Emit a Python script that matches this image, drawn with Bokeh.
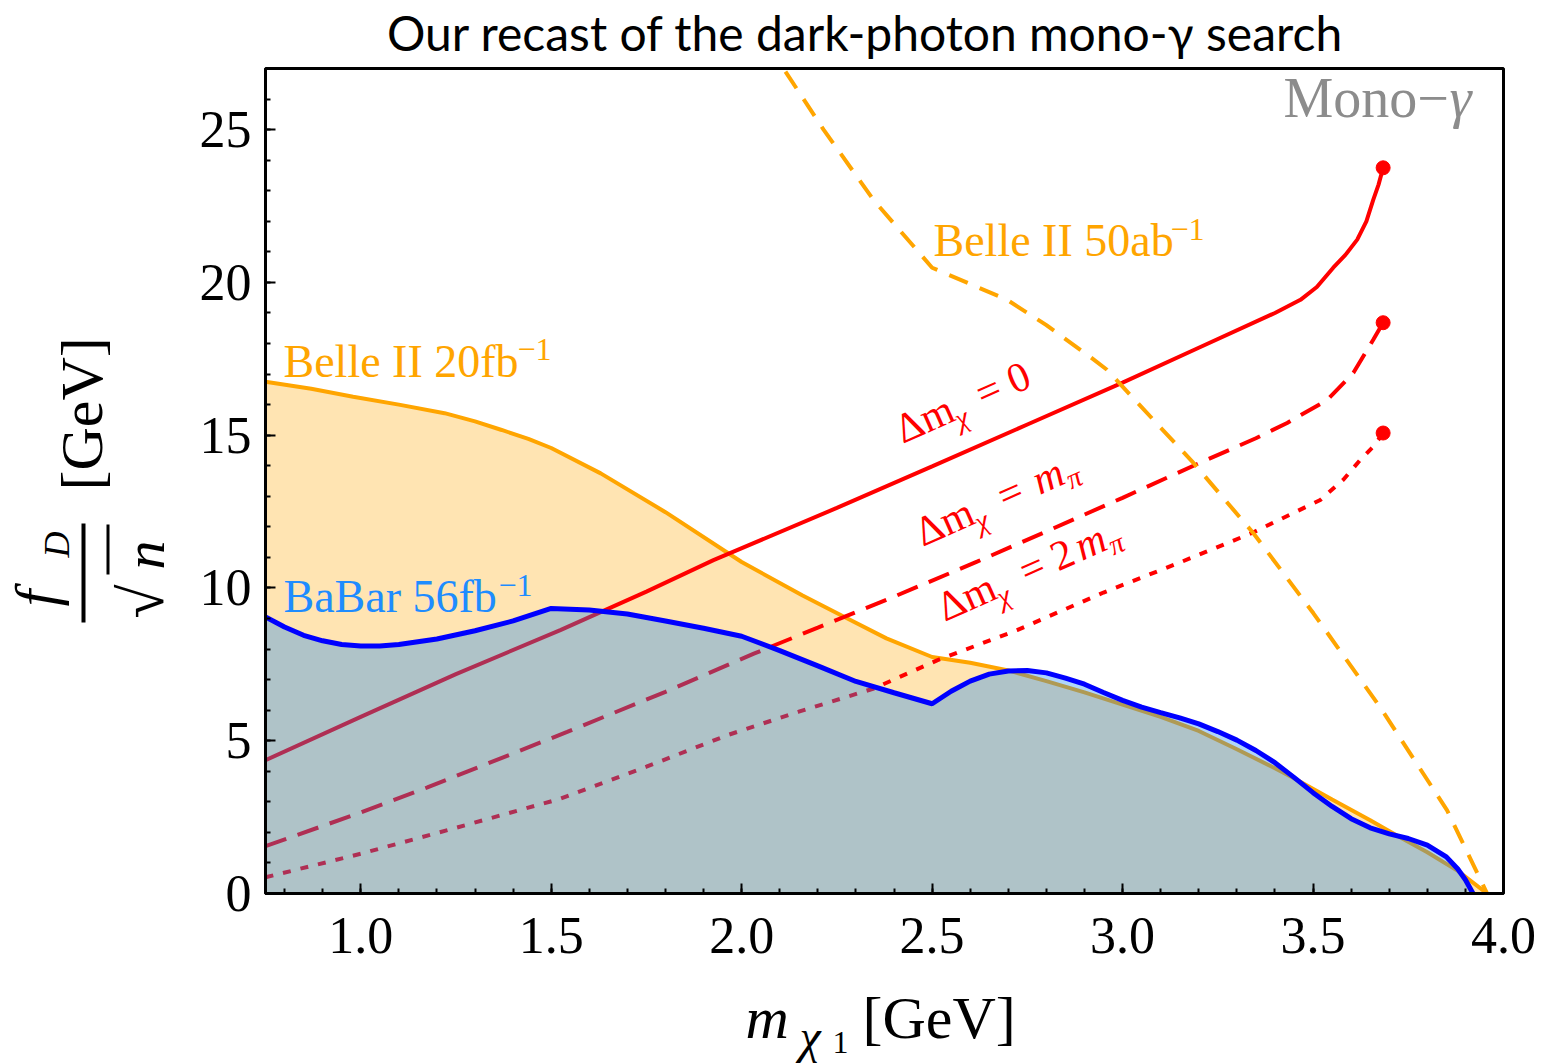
import math
from bokeh.plotting import figure
from bokeh.layouts import column, row
from bokeh.models import Label, FixedTicker, PrintfTickFormatter, Range1d
from bokeh.core.properties import value
from bokeh.embed import file_html
from bokeh.resources import INLINE

# ---------------- data ----------------
babar_x = [0.75, 0.80, 0.85, 0.90, 0.95, 1.00, 1.05, 1.10, 1.20, 1.30, 1.40, 1.50, 1.60, 1.70,
           1.80, 1.90, 2.00, 2.10, 2.20, 2.30, 2.40, 2.50, 2.55, 2.60, 2.65, 2.70, 2.75, 2.80,
           2.85, 2.90, 2.95, 3.00, 3.05, 3.10, 3.15, 3.20, 3.25, 3.30, 3.35, 3.40, 3.45, 3.50,
           3.55, 3.60, 3.65, 3.70, 3.75, 3.80, 3.85, 3.88, 3.90, 3.92]
babar_y = [9.05, 8.72, 8.45, 8.27, 8.15, 8.10, 8.10, 8.15, 8.33, 8.60, 8.92, 9.33, 9.28, 9.15,
           8.92, 8.68, 8.42, 7.95, 7.45, 6.94, 6.57, 6.21, 6.62, 6.95, 7.18, 7.28, 7.30, 7.22,
           7.05, 6.85, 6.58, 6.32, 6.10, 5.92, 5.75, 5.55, 5.30, 5.02, 4.68, 4.28, 3.80, 3.30,
           2.85, 2.45, 2.15, 1.95, 1.80, 1.58, 1.20, 0.80, 0.45, 0.0]

belle20_x = [0.75, 0.87, 0.98, 1.10, 1.22, 1.30, 1.37, 1.44, 1.50, 1.63, 1.80, 2.00, 2.16, 2.27,
             2.38, 2.50, 2.60, 2.70, 2.80, 2.90, 3.00, 3.10, 3.20, 3.30, 3.40, 3.45, 3.55, 3.65,
             3.72, 3.80, 3.88, 3.957]
belle20_y = [16.75, 16.52, 16.26, 16.00, 15.72, 15.45, 15.17, 14.88, 14.58, 13.75, 12.48, 10.85, 9.75, 9.05,
             8.35, 7.74, 7.55, 7.30, 6.95, 6.58, 6.18, 5.78, 5.32, 4.72, 4.10, 3.77, 3.08, 2.40,
             1.90, 1.35, 0.74, 0.0]

belle50_x = [2.115, 2.215, 2.346, 2.50, 2.697, 2.80, 2.915, 2.959, 3.186, 3.343, 3.501, 3.676, 3.852, 3.957]
belle50_y = [26.9, 25.0, 22.7, 20.48, 19.43, 18.6, 17.56, 17.14, 14.09, 11.80, 9.17, 6.10, 2.72, 0.0]

dm0_x = [0.75, 1.00, 1.25, 1.524, 1.75, 1.926, 2.25, 2.50, 2.75, 3.00, 3.20, 3.40, 3.467, 3.51,
         3.553, 3.585, 3.616, 3.64, 3.658, 3.672, 3.684]
dm0_y = [4.36, 5.78, 7.18, 8.62, 9.88, 10.91, 12.62, 13.98, 15.35, 16.72, 17.86, 19.00, 19.43, 19.85,
         20.48, 20.90, 21.40, 22.00, 22.70, 23.20, 23.75]

dm1_x = [0.75, 1.00, 1.175, 1.542, 1.80, 2.032, 2.20, 2.399, 2.618, 2.80, 3.00, 3.204, 3.35, 3.432,
         3.537, 3.606, 3.658, 3.684]
dm1_y = [1.55, 2.65, 3.47, 5.29, 6.60, 7.85, 8.70, 9.71, 10.86, 11.85, 12.95, 14.10, 14.90, 15.40,
         16.15, 17.04, 18.12, 18.68]

dm2_x = [0.75, 1.00, 1.25, 1.524, 1.75, 1.962, 2.15, 2.347, 2.513, 2.723, 2.95, 3.144, 3.34, 3.519,
         3.58, 3.624, 3.66, 3.684]
dm2_y = [0.53, 1.30, 2.15, 3.10, 4.15, 5.18, 5.95, 6.71, 7.63, 8.62, 9.85, 10.80, 11.80, 12.88,
         13.55, 14.19, 14.65, 15.07]

end_x = [3.684, 3.684, 3.684]
end_y = [23.75, 18.68, 15.07]

x_ticks = [1.0, 1.5, 2.0, 2.5, 3.0, 3.5, 4.0]
x_minor = [round(0.8 + 0.1 * i, 2) for i in range(32)]
y_ticks = [0, 5, 10, 15, 20, 25]
y_minor = list(range(0, 28))

# ---------------- page geometry ----------------
W, H = 1542, 1064
TOP_H = 66                    # strip for the title
LEFT_W = 180                  # strip for the y-axis label
L, FT, FB = 265, 68, 893      # frame left / top / bottom in page pixels
BB = 92                       # main plot bottom border (tick labels)
MAIN_H = (FT - TOP_H) + (FB - FT) + BB
BOT_H = H - TOP_H - MAIN_H    # strip for the x-axis label
X0, X1, Y0, Y1 = 0.75, 4.0, 0.0, 27.0
SERIF = "Liberation Serif"
K = 0.37   # alphabetic-baseline calibration
ORANGE = "#FFA500"
RED = "#FF0000"

# ---------------- main plot ----------------
p = figure(width=W - LEFT_W, height=MAIN_H, x_range=Range1d(X0, X1), y_range=Range1d(Y0, Y1),
           output_backend="svg", toolbar_location=None, title=None,
           min_border_left=L - LEFT_W, min_border_right=39,
           min_border_top=FT - TOP_H, min_border_bottom=BB)
p.background_fill_color = "white"
p.border_fill_color = "white"
p.grid.visible = False
p.outline_line_color = "black"
p.outline_line_width = 3

for ax in (p.xaxis[0], p.yaxis[0]):
    ax.axis_line_color = "black"
    ax.axis_line_width = 3
    ax.major_tick_in = 10
    ax.major_tick_out = 0
    ax.minor_tick_in = 5
    ax.minor_tick_out = 0
    ax.major_tick_line_width = 2
    ax.minor_tick_line_width = 2
    ax.major_label_text_font = SERIF
    ax.major_label_text_font_size = "52px"
    ax.major_label_text_color = "black"

p.xaxis.ticker = FixedTicker(ticks=x_ticks, minor_ticks=x_minor)
p.xaxis.formatter = PrintfTickFormatter(format="%.1f")
p.xaxis.major_label_standoff = 24
p.yaxis.ticker = FixedTicker(ticks=y_ticks, minor_ticks=y_minor)
p.yaxis.major_label_standoff = 14

rs = []
rs.append(p.varea(x=belle20_x, y1=0, y2=belle20_y, fill_color=ORANGE, fill_alpha=0.3))
rs.append(p.line(belle20_x, belle20_y, line_color=ORANGE, line_width=4))
rs.append(p.line(dm0_x, dm0_y, line_color=RED, line_width=4))
rs.append(p.line(dm1_x, dm1_y, line_color=RED, line_width=4, line_dash="22 12"))
rs.append(p.line(dm2_x, dm2_y, line_color=RED, line_width=4, line_dash="8 10"))
rs.append(p.varea(x=babar_x, y1=0, y2=babar_y, fill_color="#1987F0", fill_alpha=0.35))
rs.append(p.line(babar_x, babar_y, line_color="#0000FF", line_width=5))
rs.append(p.line(belle50_x, belle50_y, line_color=ORANGE, line_width=4, line_dash="20 13"))
rs.append(p.scatter(end_x, end_y, size=14, fill_color=RED, line_color=RED))
for r in rs:
    r.level = "underlay"


def lab(px, py, text, size, color="black", style="normal", angle=0.0, align="left", font=SERIF):
    """Label inside the main frame; px, py are page pixels of the baseline start."""
    t = math.radians(angle)
    px = px - K * size * math.sin(t)
    py = py - K * size * math.cos(t)
    p.add_layout(Label(x=px - L, y=FB - py, x_units="screen", y_units="screen", text=text,
                       text_font=font, text_font_size=f"{size}px", text_color=color,
                       text_font_style=style, angle=angle, angle_units="deg",
                       text_align=align, text_baseline="alphabetic"))


def rlab(px0, py0, theta, d, s, text, size, color, style="normal"):
    t = math.radians(theta)
    px = px0 + d * math.cos(t) + s * math.sin(t)
    py = py0 - d * math.sin(t) + s * math.cos(t)
    lab(px, py, text, size, color, style, angle=theta)


# series labels
lab(283, 378, "Belle II 20fb", 46, ORANGE)
lab(517, 361, "\u22121", 32, ORANGE)
lab(933, 257, "Belle II 50ab", 46, ORANGE)
lab(1170, 241, "\u22121", 32, ORANGE)
lab(283, 613, "BaBar 56fb", 46, "#1E8CFF")
lab(498, 597, "\u22121", 32, "#1E8CFF")
lab(1283, 118, "Mono\u2212", 56, "#8C8C8C")
lab(1449, 118, "\u03b3", 56, "#8C8C8C", style="italic")

TH = 24
rlab(903, 445, TH, 0, 0, "\u0394m", 42, RED)
rlab(903, 445, TH, 58, 9, "\u03c7", 29, RED, "italic")
rlab(903, 445, TH, 88, 0, "= 0", 42, RED)

rlab(923, 548, TH, 0, 0, "\u0394m", 42, RED)
rlab(923, 548, TH, 58, 9, "\u03c7", 29, RED, "italic")
rlab(923, 548, TH, 90, 0, "=", 42, RED)
rlab(923, 548, TH, 128, 0, "m", 42, RED, "italic")
rlab(923, 548, TH, 159, 7, "\u03c0", 29, RED, "italic")

rlab(945, 623, TH, 0, 0, "\u0394m", 42, RED)
rlab(945, 623, TH, 58, 9, "\u03c7", 29, RED, "italic")
rlab(945, 623, TH, 90, 0, "= 2", 42, RED)
rlab(945, 623, TH, 150, 0, "m", 42, RED, "italic")
rlab(945, 623, TH, 181, 7, "\u03c0", 29, RED, "italic")


# ---------------- text strips (title, axis labels) ----------------
def strip(w, h, bt=0, bb=0):
    f = figure(width=w, height=h, x_range=Range1d(0, w), y_range=Range1d(0, h - bt - bb),
               output_backend="svg", toolbar_location=None, title=None,
               x_axis_location=None, y_axis_location=None,
               min_border=0, min_border_left=0, min_border_right=0,
               min_border_top=bt, min_border_bottom=bb)
    f.outline_line_color = None
    f.grid.visible = False
    f.background_fill_color = "white"
    f.border_fill_color = "white"
    return f


def ftext(f, ox, oy, h, px, py, text, size, color="black", style="normal",
          angle=0.0, align="left", font=SERIF):
    """Text in a strip whose frame starts at page (ox, oy) and is h tall."""
    t = math.radians(angle)
    px = px - K * size * math.sin(t)
    py = py - K * size * math.cos(t)
    f.text(x=[px - ox], y=[oy + h - py], text=[text], text_font=value(font),
           text_font_size=value(f"{size}px"), text_color=color,
           text_font_style=value(style), angle=t, text_align=value(align),
           text_baseline=value("alphabetic"))


def fbar(f, ox, oy, h, x0, x1, y0, y1):
    f.quad(left=[x0 - ox], right=[x1 - ox], top=[oy + h - y0], bottom=[oy + h - y1],
           fill_color="black", line_color=None)


# title strip
top = strip(W, TOP_H)
ftext(top, 0, 0, TOP_H, 865, 50, "Our recast of the dark-photon mono-\u03b3 search", 48,
      align="center", font="Lato")

# left strip: f_D / sqrt(n) [GeV], rotated; its frame is aligned with the main frame
left = strip(LEFT_W, MAIN_H, bt=FT - TOP_H, bb=BB)
LO, LH = FT, FB - FT
ftext(left, 0, LO, LH, 104, 490, "[GeV]", 60, angle=90)
ftext(left, 0, LO, LH, 58, 606, "f", 60, style="italic", angle=90)
ftext(left, 0, LO, LH, 70, 557, "D", 36, style="italic", angle=90)
fbar(left, 0, LO, LH, 81, 85, 523, 622)
ftext(left, 0, LO, LH, 164, 618, "\u221a", 62, angle=90)
ftext(left, 0, LO, LH, 165, 569, "n", 58, style="italic", angle=90)
fbar(left, 0, LO, LH, 106, 109, 524, 574)

# bottom strip: m_{chi1} [GeV]
bot = strip(W, BOT_H)
BO = TOP_H + MAIN_H
ftext(bot, 0, BO, BOT_H, 745, 1040, "m", 60, style="italic")
ftext(bot, 0, BO, BOT_H, 799, 1054, "\u03c7", 48, style="italic")
ftext(bot, 0, BO, BOT_H, 832, 1054, "1", 32)
ftext(bot, 0, BO, BOT_H, 862, 1040, "[GeV]", 60)

layout = column(top, row(left, p, spacing=0), bot, spacing=0)
open("out.html", "w").write(file_html(layout, INLINE))
